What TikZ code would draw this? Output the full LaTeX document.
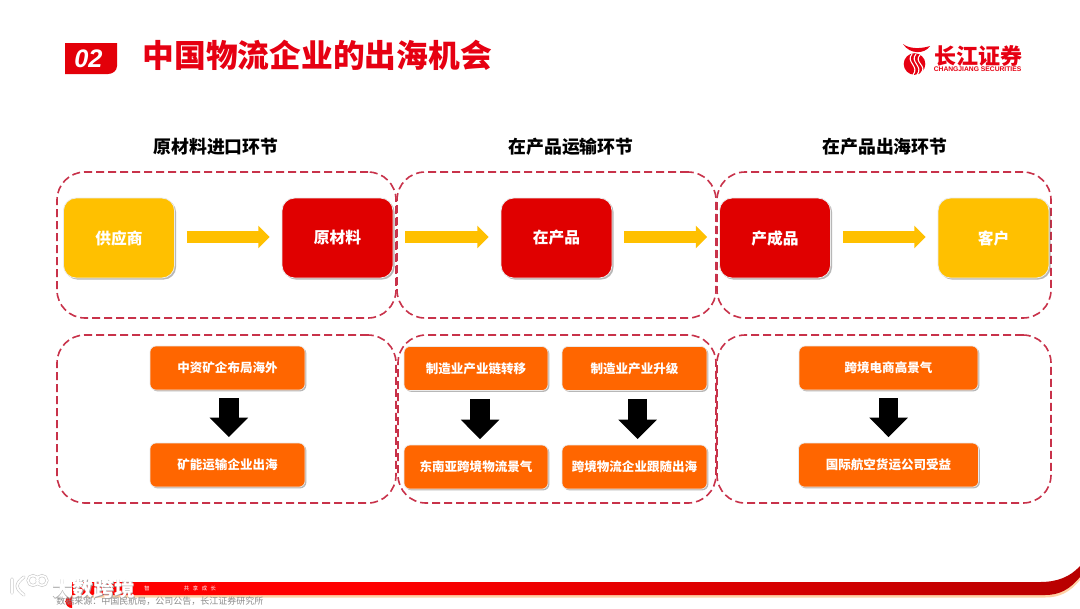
\documentclass[tikz,border=0pt]{standalone}
\usepackage{fontspec}
\setmainfont{Noto Sans CJK SC}
\newfontfamily\latinbi{Liberation Sans}
\usetikzlibrary{shadows,arrows.meta,positioning}
\definecolor{cyel}{HTML}{FFC000}
\definecolor{cred}{HTML}{E00000}
\definecolor{cora}{HTML}{FF6600}
\definecolor{cdash}{HTML}{C8324A}
\definecolor{ctitle}{HTML}{E60012}
\pgfdeclarehorizontalshading{barshade}{100bp}{
  color(0bp)=(red!100!black);
  color(40bp)=(red!100!black);
  color(80bp)=(red!68!black);
  color(94bp)=(red!88!black);
  color(100bp)=(red!100!black)}
\tikzset{
  x=0.75pt,y=-0.75pt,
  bigbox/.style={rounded corners=9.5pt,draw=white!92!black,line width=0.6pt,text=white,font=\bfseries\fontsize{11.8pt}{14pt}\selectfont,
    minimum width=83.25pt,minimum height=60pt,inner sep=0pt,
    drop shadow={shadow xshift=1.2pt,shadow yshift=-1.2pt,opacity=0.4,fill=black!70}},
  smallbox/.style={rounded corners=4.5pt,draw=white!92!black,line width=0.5pt,fill=cora,text=white,font=\bfseries\fontsize{9.4pt}{11pt}\selectfont,
    minimum height=33pt,inner sep=0pt,
    drop shadow={shadow xshift=1pt,shadow yshift=-1pt,opacity=0.4,fill=black!70}},
  groupbox/.style={draw=cdash,line width=1.2pt,rounded corners=21pt,dash pattern=on 6pt off 3pt,minimum height=109.5pt,inner sep=0pt},
  groupboxlow/.style={draw=cdash,line width=1.2pt,rounded corners=21pt,dash pattern=on 6pt off 3pt,minimum height=126pt,inner sep=0pt},
  heading/.style={font=\bfseries\fontsize{13.4pt}{16pt}\selectfont,text=black,inner sep=0pt},
  flowarrow/.style={draw=cyel,line width=9.5pt,-{Triangle[length=8.5pt,width=16.5pt]},shorten <=9pt,shorten >=9pt},
  downarrow/.style={draw=black,line width=14.5pt,-{Triangle[length=14.5pt,width=28pt]},shorten <=6pt,shorten >=4.2pt}
}
\begin{document}
\begin{tikzpicture}
\useasboundingbox[fill=white] (0,0) rectangle (1080,608);
% header
\fill[cred!50!ctitle] (65,43) -- (117,43) -- (117,66) to[out=270,in=0] (108,74) -- (65,74) -- cycle;
\node[text=white,font=\latinbi\bfseries\itshape\fontsize{19pt}{20pt}\selectfont,inner sep=0pt] (badge) at (88.5,58.5) {02};
\node[anchor=west,text=ctitle,font=\bfseries\fontsize{23.8pt}{28pt}\selectfont,inner sep=0pt] (title) at (142.5,55) {中国物流企业的出海机会};
% logo
\fill[ctitle] (914.5,64) circle[radius=10.8];
\draw[white,line width=0.8pt] (912,54) .. controls (905,62) and (920,66) .. (913,75);
\draw[white,line width=0.8pt] (916,54) .. controls (909,62) and (924,66) .. (917,75);
\draw[white,line width=0.8pt] (920,55) .. controls (913,62) and (928,66) .. (921,73);
\fill[ctitle] (903,44) .. controls (909,49) and (921,49) .. (930,46) .. controls (925,54) and (910,55) .. (903,44) -- cycle;
\node[anchor=west,text=ctitle,font=\bfseries\fontsize{16.5pt}{18pt}\selectfont,inner sep=0pt] (logocn) at (934.5,56) {长江证券};
\node[anchor=west,text=ctitle,font=\latinbi\bfseries\fontsize{5.05pt}{6pt}\selectfont,inner sep=0pt] (logoen) at (933.5,69.5) {CHANGJIANG SECURITIES};
% headings
\node[heading] (h1) at (216,146.5) {原材料进口环节};
\node[heading] (h2) at (571,146.5) {在产品运输环节};
\node[heading] (h3) at (885,146.5) {在产品出海环节};
% group frames
\node[groupbox,minimum width=254.25pt] (g1) at (226.5,245) {};
\node[groupbox,minimum width=239.25pt] (g2) at (556.5,245) {};
\node[groupbox,minimum width=250.5pt] (g3) at (884,245) {};
\node[groupboxlow,minimum width=254.25pt] (g4) at (226.5,419) {};
\node[groupboxlow,minimum width=238.5pt] (g5) at (557,419) {};
\node[groupboxlow,minimum width=250.5pt] (g6) at (884,419) {};
% top row
\node[bigbox,fill=cyel] (supplier) at (119,238) {供应商};
\node[bigbox,fill=cred] (raw) at (337.5,238) {原材料};
\node[bigbox,fill=cred] (wip) at (556.5,238) {在产品};
\node[bigbox,fill=cred] (finished) at (775,238) {产成品};
\node[bigbox,fill=cyel] (client) at (993.5,238) {客户};
\draw[flowarrow] (supplier.east |- 0,237) -- (raw.west |- 0,237);
\draw[flowarrow] (raw.east |- 0,237) -- (wip.west |- 0,237);
\draw[flowarrow] (wip.east |- 0,237) -- (finished.west |- 0,237);
\draw[flowarrow] (finished.east |- 0,237) -- (client.west |- 0,237);
% bottom row
\node[smallbox,minimum width=116.25pt] (a1) at (227.5,368) {中资矿企布局海外};
\node[smallbox,minimum width=116.25pt] (a2) at (227.5,465) {矿能运输企业出海};
\node[smallbox,minimum width=108pt] (b1) at (476,368.5) {制造业产业链转移};
\node[smallbox,minimum width=108pt] (b2) at (476,467) {东南亚跨境物流景气};
\node[smallbox,minimum width=108.75pt] (c1) at (634.5,368.5) {制造业产业升级};
\node[smallbox,minimum width=108.75pt] (c2) at (634.5,467) {跨境物流企业跟随出海};
\node[smallbox,minimum width=134.25pt] (d1) at (888.5,368) {跨境电商高景气};
\node[smallbox,minimum width=135pt] (d2) at (888.5,465) {国际航空货运公司受益};
\draw[downarrow] ([xshift=1.1pt]a1.south) -- ([xshift=1.1pt]a2.north);
\draw[downarrow] ([xshift=3pt]b1.south) -- ([xshift=3pt]b2.north);
\draw[downarrow] ([xshift=2.4pt]c1.south) -- ([xshift=2.4pt]c2.north);
\draw[downarrow] (d1.south) -- (d2.north);
% footer bar
\fill[orange!35] (72,584) -- (1045,584) .. controls (1060,584) and (1070,578) .. (1080,570) -- (1080,580) .. controls (1070,592) and (1060,597.5) .. (1045,597.5) -- (72,597.5) -- cycle;
\shade[shading=barshade] (72,582) -- (1040,582) .. controls (1057,582) and (1070,577) .. (1080,566) -- (1080,577) .. controls (1070,589) and (1060,595) .. (1045,595) -- (72,595) arc[start angle=270,end angle=90,radius=6.5] -- cycle;
\node[text=white,font=\fontsize{4pt}{5pt}\selectfont,inner sep=0pt] (slogan1) at (147,588.5) {智};
\node[text=white,font=\fontsize{4pt}{5pt}\selectfont,inner sep=0pt] (slogan2) at (200,588.5) {共\ \ \ 享\ \ \ 成\ \ \ 长};
\node[anchor=west,text=black!45,font=\fontsize{6.75pt}{8pt}\selectfont,inner sep=0pt] (src) at (56,601) {数据来源：中国民航局，公司公告，长江证券研究所};
% watermark
\node[anchor=west,text=black!35,font=\bfseries\fontsize{15.5pt}{18pt}\selectfont,inner sep=0pt] (wms) at (52.7,589.7) {大数跨境};
\node[anchor=west,text=white,font=\bfseries\fontsize{15.5pt}{18pt}\selectfont,inner sep=0pt] (wm) at (52,589) {大数跨境};
\draw[black!22,line width=2.4pt,line cap=round] (12,579) -- (12,593) (24,577) .. controls (15,584) and (15,588) .. (24,595);
\draw[white,line width=1.5pt,line cap=round] (12,579) -- (12,593) (24,577) .. controls (15,584) and (15,588) .. (24,595);
\draw[black!22,line width=2.2pt] (33,580.5) circle[radius=5] (42,580.5) circle[radius=5];
\draw[white,line width=1.3pt] (33,580.5) circle[radius=5] (42,580.5) circle[radius=5];
\end{tikzpicture}
\end{document}
